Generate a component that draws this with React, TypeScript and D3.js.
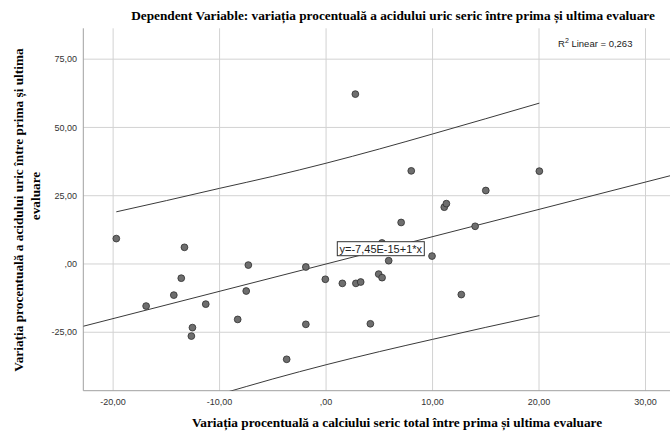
import React from "react";
import * as d3 from "d3";

const xTicks = [-20, -10, 0, 10, 20, 30];
const yTicks = [-25, 0, 25, 50, 75];

const pointsX = [-19.7, -16.9, -14.3, -13.6, -13.3, -12.55, -12.65, -11.3, -8.3, -7.3, -7.5, -3.7, -1.9, -1.9, -0.07, 1.53, 2.75, 2.8, 3.25, 4.16, 4.94, 5.26, 5.25, 5.88, 7.05, 8.0, 9.95, 11.1, 11.3, 12.7, 14.0, 15.0, 20.03];
const pointsY = [9.3, -15.4, -11.4, -5.2, 6.1, -23.3, -26.4, -14.7, -20.3, -0.4, -9.9, -34.9, -1.1, -22.1, -5.6, -7.1, 62.2, -7.1, -6.6, -21.9, -3.7, -5.0, 7.7, 1.2, 15.2, 34.1, 2.9, 20.8, 22.1, -11.2, 13.8, 26.9, 34.0];

const fitIntercept = -7.45e-15;
const fitSlope = 1;

const bandX = [-19.7, -15, -10, -5, 0, 5, 10, 15, 20.03];
const bandUpper = [19.1, 23.2, 27.7, 32.1, 36.9, 42.1, 47.6, 53.2, 58.9];
const bandLower = [-58.5, -53.2, -47.7, -42.1, -36.9, -32.1, -27.6, -23.2, -18.9];

const fmt = (v: number) => {
  if (v === 0) return ",00";
  return v.toFixed(2).replace(".", ",");
};

export default function App() {
  const W = 670, H = 435;
  const left = 83.3, right = 670, top = 28.3, bottom = 390.7;
  const x = d3.scaleLinear().domain([-22.8, 32.3]).range([left, right]);
  const y = d3.scaleLinear().domain([-46.4, 86.3]).range([bottom, top]);

  const upperPath = d3
    .line<number>()
    .x((_, i) => x(bandX[i]))
    .y((_, i) => y(bandUpper[i]))
    .curve(d3.curveMonotoneX)(bandUpper) || "";
  const lowerPath = d3
    .line<number>()
    .x((_, i) => x(bandX[i]))
    .y((_, i) => y(bandLower[i]))
    .curve(d3.curveMonotoneX)(bandLower) || "";

  const [x0, x1] = x.domain();
  const serif = "'Liberation Serif', 'Times New Roman', serif";
  const sans = "'Liberation Sans', Arial, sans-serif";
  const tfs = 13.3;

  return (
    <svg
      width={W}
      height={H}
      style={{ position: "absolute", left: 0, top: 0, background: "#fff" }}
    >
      <defs>
        <clipPath id="plotClip">
          <rect x={left} y={top} width={right - left} height={bottom - top} />
        </clipPath>
      </defs>
      <rect x={0} y={0} width={W} height={H} fill="#fff" />
      {xTicks.map((t) => (
        <line key={"gx" + t} x1={x(t)} x2={x(t)} y1={top} y2={bottom} stroke="#d2d2d2" strokeWidth={1} />
      ))}
      {yTicks.map((t) => (
        <line key={"gy" + t} x1={left} x2={right} y1={y(t)} y2={y(t)} stroke="#d2d2d2" strokeWidth={1} />
      ))}
      <line x1={left} x2={left} y1={top} y2={bottom} stroke="#a0a0a0" strokeWidth={1} />
      <line x1={left} x2={right} y1={bottom} y2={bottom} stroke="#a0a0a0" strokeWidth={1} />
      {xTicks.map((t) => (
        <text key={"tx" + t} x={x(t)} y={405} textAnchor="middle" fontFamily={sans} fontSize={9} fill="#333">
          {fmt(t)}
        </text>
      ))}
      {yTicks.map((t) => (
        <text key={"ty" + t} x={77} y={y(t)} dy="0.35em" textAnchor="end" fontFamily={sans} fontSize={9} fill="#333">
          {fmt(t)}
        </text>
      ))}
      <g clipPath="url(#plotClip)">
        <line
          x1={x(x0)}
          y1={y(fitIntercept + fitSlope * x0)}
          x2={x(x1)}
          y2={y(fitIntercept + fitSlope * x1)}
          stroke="#3a3a3a"
          strokeWidth={1}
        />
        <path d={upperPath} fill="none" stroke="#3a3a3a" strokeWidth={1} />
        <path d={lowerPath} fill="none" stroke="#3a3a3a" strokeWidth={1} />
        {pointsX.map((px, i) => (
          <circle key={"p" + i} cx={x(px)} cy={y(pointsY[i])} r={3.4} fill="#6e6e6e" stroke="#2e2e2e" strokeWidth={0.8} />
        ))}
      </g>
      <rect x={337.3} y={241.7} width={87} height={14} fill="#fff" stroke="#333" strokeWidth={1} />
      <text x={339.5} y={252.5} fontFamily={sans} fontSize={11} fill="#222">
        y=-7,45E-15+1*x
      </text>
      <text x={558} y={47.3} fontFamily={sans} fontSize={9.5} fill="#222">
        R<tspan dy={-4} fontSize={7}>2</tspan>
        <tspan dy={4}> Linear = 0,263</tspan>
      </text>
      <text x={393} y={20} textAnchor="middle" fontFamily={serif} fontWeight="bold" fontSize={tfs} fill="#000">
        Dependent Variable: variația procentuală a acidului uric seric între prima și ultima evaluare
      </text>
      <text x={397} y={427} textAnchor="middle" fontFamily={serif} fontWeight="bold" fontSize={tfs} fill="#000">
        Variația procentuală a calciului seric total între prima și ultima evaluare
      </text>
      <text transform="translate(23,210) rotate(-90)" textAnchor="middle" fontFamily={serif} fontWeight="bold" fontSize={tfs} fill="#000">
        Variația procentuală a acidului uric între prima și ultima
      </text>
      <text transform="translate(40,196) rotate(-90)" textAnchor="middle" fontFamily={serif} fontWeight="bold" fontSize={tfs} fill="#000">
        evaluare
      </text>
    </svg>
  );
}
